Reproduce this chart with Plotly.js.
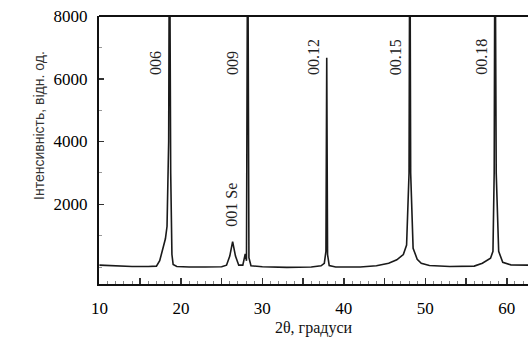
<!DOCTYPE html>
<html>
<head>
<meta charset="utf-8">
<script src="https://cdn.plot.ly/plotly-3.0.1.min.js"></script>
<style>html,body{margin:0;padding:0;background:#fff;}#chart{width:528px;height:346px;}</style>
</head>
<body>
<div id="chart"></div>
<script>
// 2θ (degrees) and intensity (arb. units)
const twoTheta = [10.0, 12.0, 14.0, 16.0, 17.0, 17.4, 17.8, 18.1, 18.3, 18.5, 18.6, 18.75, 18.9, 19.05, 19.5,
  21.0, 23.0, 25.0, 25.6, 26.0, 26.35, 26.7, 27.1, 27.6, 27.9, 28.05, 28.2, 28.35, 28.6,
  30.0, 33.0, 36.0, 37.2, 37.6, 37.8, 37.9, 38.0, 38.2, 39.0,
  42.0, 44.0, 45.5, 46.5, 47.3, 47.7, 48.0, 48.1, 48.2, 48.5, 49.0, 49.5, 50.5,
  53.0, 56.0, 57.0, 58.0, 58.3, 58.45, 58.55, 58.7, 59.0, 59.5, 60.5, 62.6];
const intensity = [60, 30, 20, 20, 30, 200, 650, 900, 1300, 4000, 12000, 3000, 400, 80, 20,
  0, 0, 10, 60, 350, 810, 350, 60, 60, 420, 200, 12000, 300, 40,
  10, -10, 0, 40, 120, 500, 6670, 400, 50, 0,
  0, 40, 120, 230, 400, 700, 3000, 12000, 3000, 600, 250, 120, 50,
  20, 30, 120, 280, 500, 3000, 12000, 3000, 500, 150, 70, 60];

// peak labels
const peakLabels = ["006", "009", "00.12", "00.15", "00.18", "001 Se"];
const labelX = [16.8, 26.25, 36.2, 46.3, 56.9, 26.25];
const labelY = [6500, 6500, 6690, 6690, 6690, 1980];

// axis ticks
const xTickVals = [10, 15, 20, 25, 30, 35, 40, 45, 50, 55, 60];
const xTickText = ["10", "", "20", "", "30", "", "40", "", "50", "", "60"];
const yTickVals = [2000, 4000, 6000, 8000];
const yTickText = ["2000", "4000", "6000", "8000"];

const serif = "Liberation Serif, Times New Roman, serif";

const annotations = peakLabels.map((t, i) => ({
  x: labelX[i], y: labelY[i], xref: "x", yref: "y",
  text: t, textangle: -90, showarrow: false,
  font: {family: serif, size: 16, color: "#222"}
}));
annotations.push({
  x: -0.163, y: 0.59, xref: "paper", yref: "paper",
  text: "Інтенсивність, відн. од.", textangle: -90, showarrow: false,
  font: {family: "Liberation Sans, Arial, sans-serif", size: 14, color: "#333"}
});

const trace = {
  x: twoTheta, y: intensity, type: "scatter", mode: "lines",
  line: {color: "#1a1a1a", width: 1.6}, hoverinfo: "skip"
};

const layout = {
  width: 528, height: 346,
  margin: {l: 99, r: 0, t: 16, b: 62},
  paper_bgcolor: "#fff", plot_bgcolor: "#fff",
  showlegend: false,
  xaxis: {
    range: [9.95, 62.6], showgrid: false, zeroline: false,
    showline: true, linecolor: "#111", linewidth: 2,
    tickmode: "array", tickvals: xTickVals, ticktext: xTickText,
    ticks: "inside", ticklen: 6, tickcolor: "#333", tickwidth: 1.5,
    minor: {dtick: 1, ticks: "inside", ticklen: 3, tickcolor: "#888", tickwidth: 1},
    ticklabelstandoff: 8,
    tickfont: {family: serif, size: 17, color: "#000"},
    title: {text: "2θ, градуси", font: {family: serif, size: 16, color: "#111"}, standoff: 4}
  },
  yaxis: {
    range: [-540, 8000], showgrid: false, zeroline: false,
    showline: true, linecolor: "#111", linewidth: 2,
    tickmode: "array", tickvals: yTickVals, ticktext: yTickText,
    ticks: "inside", ticklen: 5, tickcolor: "#333", tickwidth: 1.5,
    minor: {dtick: 1000, ticks: "inside", ticklen: 3, tickcolor: "#999", tickwidth: 1},
    ticklabelstandoff: 6,
    tickfont: {family: serif, size: 17, color: "#000"}
  },
  shapes: [{type: "line", xref: "paper", yref: "paper", x0: 0, x1: 1, y0: 1, y1: 1,
            line: {color: "#111", width: 2}}],
  annotations: annotations
};

Plotly.newPlot("chart", [trace], layout, {staticPlot: true, displayModeBar: false});
</script>
</body>
</html>
